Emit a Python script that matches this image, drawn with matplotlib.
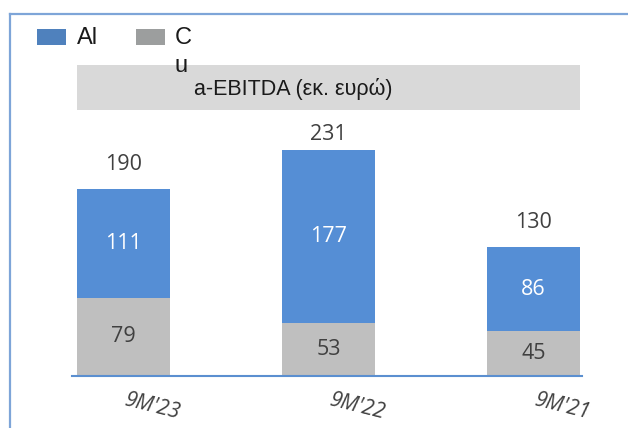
import matplotlib
matplotlib.use("Agg")
import matplotlib.pyplot as plt
from matplotlib.patches import Rectangle
from matplotlib.lines import Line2D

categories = ["9M'23", "9M'22", "9M'21"]
al_values = [111, 177, 86]
cu_values = [79, 53, 45]
totals = [190, 231, 130]
legend_labels = ["Al", "Cu"]
title_text = "a-EBITDA (εκ. ευρώ)"

W, H = 628, 428
fig = plt.figure(figsize=(W / 100, H / 100), dpi=100)
fig.patch.set_facecolor("white")

def fx(px):
    return px / W

def fy(py):
    return 1 - py / H

# axes placement in pixels
ax_left, ax_right, ax_bottom, ax_top = 72, 582, 375.5, 14
ax = fig.add_axes([fx(ax_left), fy(ax_bottom), fx(ax_right - ax_left), (ax_bottom - ax_top) / H])
ax.set_facecolor("none")

spacing_px = 205.0
first_center = 123.5
ax.set_xlim((ax_left - first_center) / spacing_px, (ax_right - first_center) / spacing_px)
px_per_unit = (375.5 - 189) / 190.0
ax.set_ylim(0, (ax_bottom - ax_top) / px_per_unit)

blue = "#558ed5"
gray = "#bfbfbf"
x = list(range(len(categories)))
bw = 93 / spacing_px
ax.bar(x, cu_values, width=bw, color=gray, edgecolor="none", zorder=2)
ax.bar(x, al_values, width=bw, bottom=cu_values, color=blue, edgecolor="none", zorder=2)

numfont = "Open Sans"
nsize = 15.5
label_top_limit_px = 134.5  # total labels cannot go above this pixel row
for i in x:
    ax.text(i, cu_values[i] / 2, str(cu_values[i]), ha="center", va="center",
            fontsize=nsize, color="#404040", family=numfont, zorder=3)
    ax.text(i, cu_values[i] + al_values[i] / 2, str(al_values[i]), ha="center", va="center",
            fontsize=nsize, color="white", family=numfont, zorder=3)
    top_px = ax_bottom - totals[i] * px_per_unit
    off = min(25, top_px - label_top_limit_px)
    ax.annotate(str(totals[i]), xy=(i, totals[i]), xytext=(0, off), textcoords="offset pixels",
                ha="center", va="center", fontsize=nsize, color="#404040", family=numfont)
    ax.annotate(categories[i], xy=(i, 0), xytext=(28, -31), textcoords="offset pixels",
                ha="center", va="center", fontsize=15, color="#404040", family=numfont,
                style="italic", rotation=-14, rotation_mode="anchor", annotation_clip=False)

for s in ["top", "right", "left"]:
    ax.spines[s].set_visible(False)
ax.spines["bottom"].set_color("#5b8fd0")
ax.spines["bottom"].set_linewidth(1.5)
ax.set_xticks([])
ax.set_yticks([])

# frame border
border = "#7ea5d8"
fig.add_artist(Line2D([fx(9.5), fx(9.5)], [0, fy(14)], color=border, lw=1.6))
fig.add_artist(Line2D([fx(9.5), 1], [fy(14), fy(14)], color=border, lw=1.6))

# title box
fig.add_artist(Rectangle((fx(77), fy(110.5)), fx(580 - 77), (110.5 - 65) / H,
                         facecolor="#d9d9d9", edgecolor="none"))
fig.text(fx(194), fy(89), title_text, ha="left", va="center", fontsize=15.5,
         color="#1a1a1a", family="Liberation Sans")

# legend
fig.add_artist(Rectangle((fx(37), fy(44.5)), fx(29), 16 / H, facecolor="#4f81bd", edgecolor="none"))
fig.text(fx(77), fy(38), legend_labels[0], ha="left", va="center", fontsize=17,
         color="#1a1a1a", family="Liberation Sans")
fig.add_artist(Rectangle((fx(136), fy(44.5)), fx(29), 16 / H, facecolor="#9c9e9e", edgecolor="none"))
fig.text(fx(175), fy(38), legend_labels[1][0], ha="left", va="center", fontsize=17,
         color="#1a1a1a", family="Liberation Sans")
fig.text(fx(175), fy(66), legend_labels[1][1], ha="left", va="center", fontsize=17,
         color="#1a1a1a", family="Liberation Sans")

fig.savefig("out.png", dpi=100)
